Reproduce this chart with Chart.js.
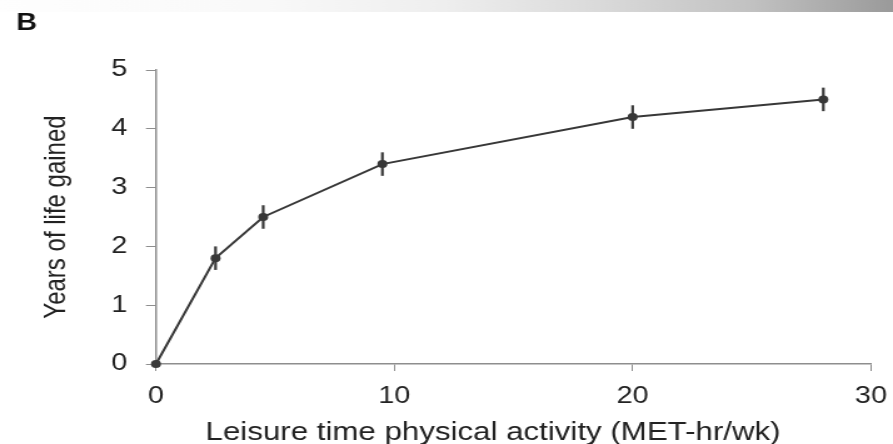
<!DOCTYPE html>
<html>
<head>
<meta charset="utf-8">
<script src="https://cdn.jsdelivr.net/npm/chart.js@4.4.1/dist/chart.umd.min.js"></script>
<style>
  html, body { margin: 0; padding: 0; background: #fff; overflow: hidden; }
  /* the figure is a bit wider than tall in its fonts, so draw narrow and stretch */
  #wrap { width: 714px; height: 444px; transform: scaleX(1.2507); transform-origin: 0 0; }
</style>
</head>
<body>
<div id="wrap"><canvas id="c"></canvas></div>
<script>
  const activity = [0, 2.5, 4.5, 9.5, 20, 28];       // MET-hr/wk
  const yearsGained = [0, 1.8, 2.5, 3.4, 4.2, 4.5];
  const errHalf = [0, 0.2, 0.2, 0.2, 0.2, 0.2];
  const xTicks = [0, 10, 20, 30];
  const yTicks = [0, 1, 2, 3, 4, 5];

  const FONT = "'Liberation Sans', Arial, sans-serif";
  const AXIS = '#8e8e8e';
  const INK = '#383838';

  // top gradient strip, panel letter and x title
  const decor = {
    id: 'decor',
    beforeDraw(chart) {
      const ctx = chart.ctx;
      const w = chart.width;
      ctx.save();
      ctx.fillStyle = '#fff';
      ctx.fillRect(0, 0, w, chart.height);
      const g = ctx.createLinearGradient(0, 0, w, 0);
      g.addColorStop(0, '#fefefe');
      g.addColorStop(0.3, '#f9f9f9');
      g.addColorStop(0.5, '#eeeeee');
      g.addColorStop(0.67, '#dadada');
      g.addColorStop(0.84, '#c2c2c2');
      g.addColorStop(1, '#9a9a9a');
      ctx.fillStyle = g;
      ctx.fillRect(0, 0, w, 12);
      ctx.restore();
    },
    afterDraw(chart) {
      const ctx = chart.ctx;
      ctx.save();
      ctx.fillStyle = '#111';
      ctx.font = 'bold 23px ' + FONT;
      ctx.textBaseline = 'alphabetic';
      ctx.textAlign = 'left';
      ctx.fillText('B', 13, 29.5);
      ctx.fillStyle = '#222';
      ctx.font = '25px ' + FONT;
      ctx.textAlign = 'center';
      ctx.fillText('Leisure time physical activity (MET-hr/wk)', 394.2, 440);
      ctx.restore();
    }
  };

  const errorBars = {
    id: 'errorBars',
    afterDatasetsDraw(chart) {
      const ctx = chart.ctx;
      const xs = chart.scales.x, ys = chart.scales.y;
      ctx.save();
      ctx.strokeStyle = INK;
      ctx.lineWidth = 2.2;
      activity.forEach(function (a, i) {
        if (!errHalf[i]) return;
        const px = xs.getPixelForValue(a);
        ctx.beginPath();
        ctx.moveTo(px, ys.getPixelForValue(yearsGained[i] - errHalf[i]));
        ctx.lineTo(px, ys.getPixelForValue(yearsGained[i] + errHalf[i]));
        ctx.stroke();
      });
      ctx.restore();
    }
  };

  new Chart(document.getElementById('c'), {
    type: 'line',
    data: {
      datasets: [{
        data: activity.map(function (a, i) { return { x: a, y: yearsGained[i] }; }),
        borderColor: INK,
        borderWidth: 2,
        tension: 0,
        pointRadius: 4,
        pointBackgroundColor: INK,
        pointBorderWidth: 0,
        clip: false
      }]
    },
    options: {
      responsive: true,
      maintainAspectRatio: false,
      animation: false,
      layout: { padding: { top: 70, right: 17.6, left: 0, bottom: 0 } },
      plugins: { legend: { display: false }, tooltip: { enabled: false } },
      scales: {
        x: {
          type: 'linear',
          min: 0,
          max: 30,
          afterBuildTicks: function (s) { s.ticks = xTicks.map(function (v) { return { value: v }; }); },
          afterFit: function (s) { s.height = 80; s.paddingLeft = 0; s.paddingRight = 0; },
          border: { color: AXIS, width: 1.5 },
          grid: { drawOnChartArea: false, tickLength: 7, color: AXIS },
          ticks: { color: '#222', font: { family: FONT, size: 23 }, padding: 12, maxRotation: 0 }
        },
        y: {
          min: 0,
          max: 5,
          afterBuildTicks: function (s) { s.ticks = yTicks.map(function (v) { return { value: v }; }); },
          afterFit: function (s) { s.width = 124.7; s.paddingTop = 0; s.paddingBottom = 0; },
          border: { color: AXIS, width: 1.5 },
          grid: { drawOnChartArea: false, tickLength: 8, color: AXIS },
          ticks: { color: '#222', font: { family: FONT, size: 23 }, padding: 15 },
          title: {
            display: true,
            text: 'Years of life gained',
            color: '#222',
            font: { family: FONT, size: 24 },
            padding: { top: 31, bottom: 0 }
          }
        }
      }
    },
    plugins: [decor, errorBars]
  });
</script>
</body>
</html>
